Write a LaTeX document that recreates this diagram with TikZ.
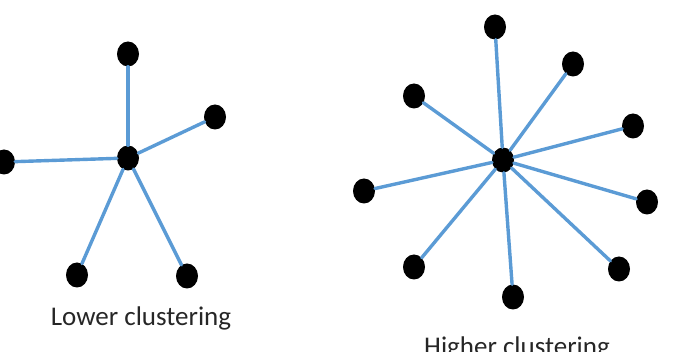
\documentclass[tikz,border=0pt]{standalone}
\usepackage{fontspec}
\setmainfont{Carlito}
\definecolor{edgeblue}{RGB}{91,155,213}
\tikzset{
  vtx/.style={ellipse,fill=black,inner sep=0pt,minimum width=22pt,minimum height=25pt},
  link/.style={draw=edgeblue,line width=3.4pt},
  caption/.style={anchor=base,text=black!85,font=\fontsize{27}{31}\selectfont}
}
\usetikzlibrary{shapes.geometric}
\begin{document}
\begin{tikzpicture}[x=1pt,y=-1pt,line cap=round,line join=round]
  \useasboundingbox (0,0) rectangle (686,352);
  % star with five leaves
  \node[vtx] (lc) at (128,158) {};
  \node[vtx] (l1) at (128,54) {};
  \node[vtx] (l2) at (215,117) {};
  \node[vtx] (l3) at (4,162) {};
  \node[vtx] (l4) at (77,275) {};
  \node[vtx] (l5) at (187,276) {};
  \foreach \n in {l1,l2,l3,l4,l5}
    \draw[link] (lc) -- (\n);
  \node[caption] (lowtxt) at (141,326) {Lower clustering};
  % star with nine leaves
  \node[vtx] (hc) at (503,160) {};
  \node[vtx] (h1) at (495,27) {};
  \node[vtx] (h2) at (573,64) {};
  \node[vtx] (h3) at (633,126) {};
  \node[vtx] (h4) at (647,202) {};
  \node[vtx] (h5) at (619,269) {};
  \node[vtx] (h6) at (513,297) {};
  \node[vtx] (h7) at (414,267) {};
  \node[vtx] (h8) at (364,191) {};
  \node[vtx] (h9) at (414,96) {};
  \foreach \n in {h1,h2,h3,h4,h5,h6,h7,h8,h9}
    \draw[link] (hc) -- (\n);
  \node[caption] (hightxt) at (517,356) {Higher clustering};
\end{tikzpicture}
\end{document}
